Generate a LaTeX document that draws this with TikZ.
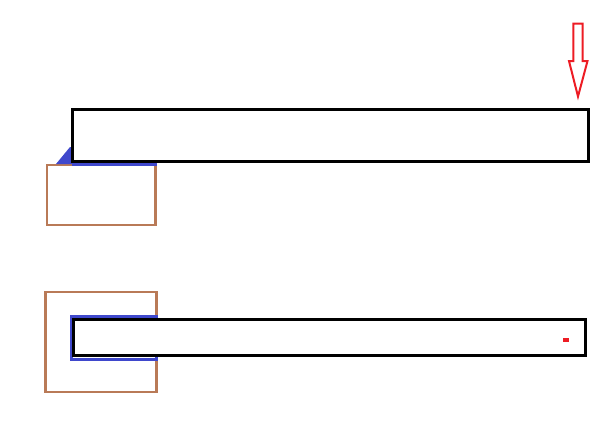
\documentclass[tikz,border=0pt]{standalone}
\definecolor{beamblue}{RGB}{63,72,204}
\definecolor{seatbrown}{RGB}{185,122,87}
\definecolor{loadred}{RGB}{237,28,36}
\begin{document}
\begin{tikzpicture}[x=1pt, y=-1pt,
    beam/.style={draw=black, line width=3pt, fill=white},
    seat/.style={draw=seatbrown, line width=2.5pt},
    clamp/.style={draw=beamblue, line width=3pt}]
    \useasboundingbox (0, 0) rectangle (614, 434);

    % upper beam on a block
    \draw[seat] (47, 165) rectangle (155.5, 225);
    \fill[beamblue] (56, 164) -- (70, 147) -- (73, 147) -- (73, 164) -- cycle;
    \draw[clamp] (72, 164.5) -- (157, 164.5);
    \draw[beam] (72, 109.5) rectangle (588, 161.5);

    % load
    \draw[loadred, line width=2pt, line join=miter]
      (573.3, 23.7) -- (582.7, 23.7) -- (582.7, 61) -- (587.5, 61)
      -- (578, 96.5) -- (569, 61) -- (573.3, 61) -- cycle;

    % lower beam, clamped
    \draw[seat] (45.5, 292) rectangle (156.5, 392);
    \draw[clamp] (71.3, 316.5) rectangle (156, 359.5);
    \draw[beam] (73.8, 319) rectangle (585, 355.5);
    \fill[loadred] (563, 338) rectangle (569, 342);
\end{tikzpicture}
\end{document}
